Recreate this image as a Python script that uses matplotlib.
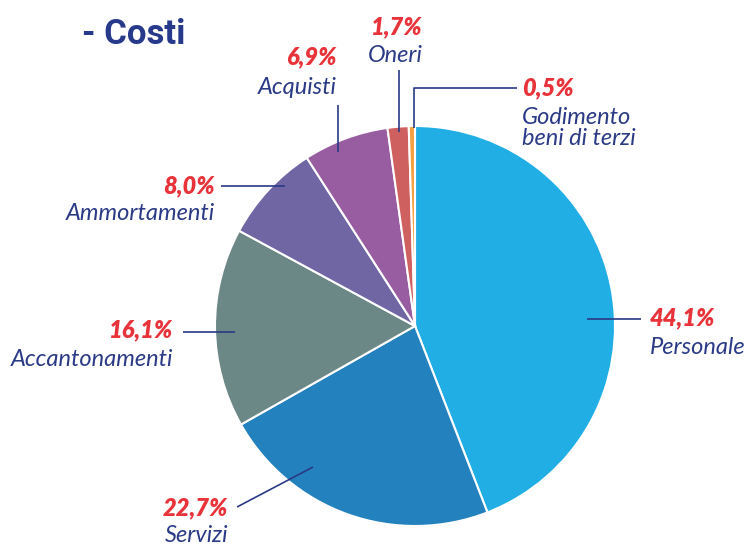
import matplotlib.pyplot as plt

# data
labels = ['Personale', 'Servizi', 'Accantonamenti', 'Ammortamenti',
          'Acquisti', 'Oneri', 'Godimento\nbeni di terzi']
values = [44.1, 22.7, 16.1, 8.0, 6.9, 1.7, 0.5]
colors = ['#21aee4', '#2381bd', '#6b8786', '#6f66a3',
          '#975da0', '#cf6060', '#f5a040']

navy = '#2a3a86'
red = '#e8333a'

# layout for leader lines and labels (data units, pie radius = 1)
# (line points, pct xy, label xy, ha)
layout = [
    ([(0.86, 0.035), (1.13, 0.035)], (1.175, 0.04), (1.175, -0.11), 'left'),
    ([(-0.51, -0.705), (-0.89, -0.905)], (-0.935, -0.91), (-0.935, -1.05), 'right'),
    ([(-0.9, -0.03), (-1.16, -0.03)], (-1.21, -0.02), (-1.21, -0.17), 'right'),
    ([(-0.65, 0.70), (-0.97, 0.70)], (-1.0, 0.70), (-1.0, 0.565), 'right'),
    ([(-0.385, 0.87), (-0.385, 1.105)], (-0.39, 1.345), (-0.39, 1.195), 'right'),
    ([(-0.08, 0.97), (-0.08, 1.28)], (-0.09, 1.495), (-0.10, 1.355), 'center'),
    ([(-0.005, 0.99), (-0.005, 1.19), (0.51, 1.19)], (0.535, 1.19), (0.535, 0.99), 'left'),
]

fig = plt.figure(figsize=(7.47, 5.48), dpi=100)
ax = fig.add_axes([0, 0, 1, 1])
ax.pie(values, colors=colors, startangle=90, counterclock=False,
       wedgeprops=dict(edgecolor='white', linewidth=1.5))

for lab, val, (pts, pxy, lxy, ha) in zip(labels, values, layout):
    xs, ys = zip(*pts)
    ax.plot(xs, ys, color=navy, lw=1.2, solid_capstyle='butt')
    ax.text(pxy[0], pxy[1], f'{val:.1f}%'.replace('.', ','), color=red,
            fontsize=17, fontfamily='Lato', fontweight='heavy', style='italic',
            ha=ha, va='center')
    ax.text(lxy[0], lxy[1], lab, color=navy, fontsize=17, fontfamily='Lato',
            style='italic', ha=ha, va='center', linespacing=1.0)

ax.set_xlim(-415 / 200, (747 - 415) / 200)
ax.set_ylim((326 - 548) / 200, 326 / 200)
ax.set_aspect('equal')
ax.axis('off')

fig.text(82 / 747, 1 - 35 / 548, '- Costi', color='#26398a', fontsize=25,
         fontfamily='Roboto', fontweight='bold', va='center', ha='left')

fig.savefig('out.png', dpi=100)
